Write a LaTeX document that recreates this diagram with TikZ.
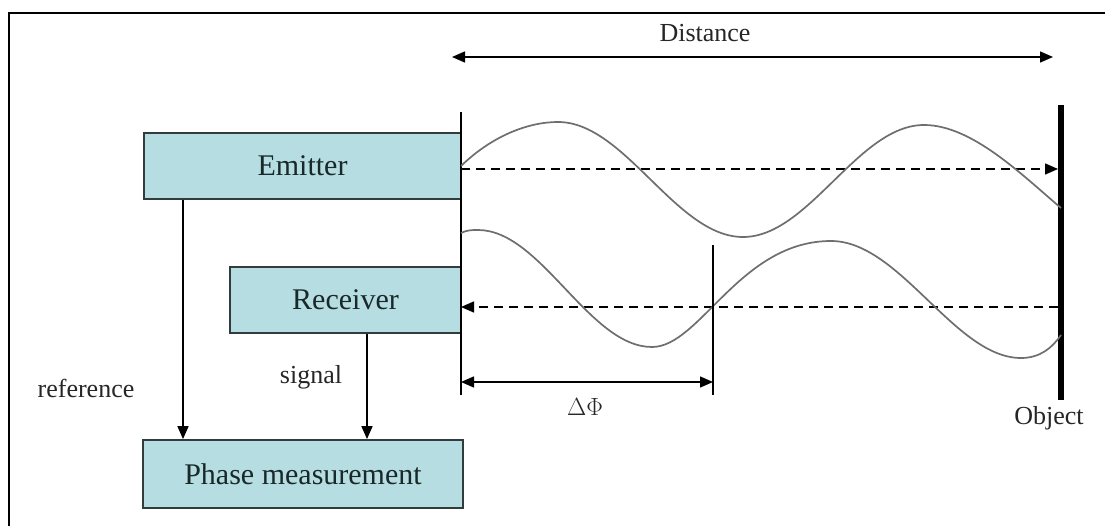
\documentclass[tikz,border=0pt]{standalone}
\usepackage{fontspec}
\setmainfont{Liberation Serif}
\usetikzlibrary{arrows.meta}
\definecolor{boxfill}{RGB}{182,221,226}
\definecolor{boxline}{RGB}{50,60,60}
\definecolor{boxtext}{RGB}{25,40,40}
\definecolor{wave}{RGB}{110,110,110}
\tikzset{
  tip/.tip={Triangle[length=13pt,width=11pt]},
  blockbox/.style={draw=boxline, line width=1.8pt, fill=boxfill, inner sep=0pt,
    text=boxtext, font=\fontsize{30}{32}\selectfont},
  lbl/.style={font=\fontsize{26}{28}\selectfont, text=black!85, inner sep=0pt},
  arr/.style={line width=1.5pt, -tip},
  dblarr/.style={line width=1.5pt, tip-tip},
  dasharr/.style={line width=1.5pt, dash pattern=on 9pt off 6pt, -tip},
  wavecurve/.style={draw=wave, line width=1.7pt},
  tick/.style={line width=1.5pt},
}
\begin{document}
\begin{tikzpicture}[x=1pt,y=-1pt]
  \useasboundingbox (0,0) rectangle (1105,526);
  % frame
  \draw[line width=2.5pt] (9,526) -- (9,13) -- (1105,13);

  % blocks
  \node[blockbox, minimum width=317pt, minimum height=66pt] (emit) at (302.5,166) {Emitter};
  \node[blockbox, minimum width=231pt, minimum height=66pt] (recv) at (345.5,300) {Receiver};
  \node[blockbox, minimum width=320pt, minimum height=68pt] (phase) at (303,474) {Phase measurement};

  % reference and signal paths
  \coordinate (refx) at (183,0);
  \coordinate (sigx) at (367,0);
  \draw[arr] (emit.south -| refx) -- (phase.north -| refx);
  \draw[arr] (recv.south -| sigx) -- (phase.north -| sigx);
  \node[lbl] (reflbl) at (86,388) {reference};
  \node[lbl] (siglbl) at (311,377) {signal};

  % emitter / receiver plane and the object
  \coordinate (vtop) at (461,112);
  \coordinate (vbot) at (461,395);
  \draw[tick] (vtop) -- (vbot);
  \coordinate (objtop) at (1061,105);
  \coordinate (objbot) at (1061,400);
  \draw[line width=6pt] (objtop) -- (objbot);
  \node[lbl] (objlbl) at (1049,418) {Object};

  % distance
  \coordinate (dl) at (452,57);
  \coordinate (dr) at (1053,57);
  \draw[dblarr] (dl) -- (dr);
  \node[lbl] (distlbl) at (705,33) {Distance};

  % outgoing and returning beams
  \coordinate (outs) at (461,169);
  \coordinate (oute) at (1058,169);
  \coordinate (rets) at (1058,307);
  \coordinate (rete) at (461,307);
  \draw[dasharr] (outs) -- (oute);
  \draw[dasharr] (rets) -- (rete);

  % emitted wave
  \draw[wavecurve] (461,166)
    .. controls (492,136) and (528,122) .. (558,122)
    .. controls (625,122) and (676,237) .. (743,237)
    .. controls (809,237) and (858,125) .. (924,125)
    .. controls (972,125) and (1022,175) .. (1061,208);
  % received wave
  \draw[wavecurve] (461,233)
    .. controls (467,230) and (472,230) .. (478,230)
    .. controls (541,230) and (589,347) .. (652,347)
    .. controls (700,347) and (740,241) .. (831,241)
    .. controls (900,241) and (955,358) .. (1021,358)
    .. controls (1040,358) and (1052,348) .. (1061,335);

  % phase shift
  \coordinate (ptop) at (713,245);
  \coordinate (pbot) at (713,395);
  \draw[tick] (ptop) -- (pbot);
  \coordinate (pl) at (461,382);
  \coordinate (pr) at (713,382);
  \draw[dblarr] (pl) -- (pr);
  \node[lbl] (philbl) at (585,407) {$\Delta\Phi$};
\end{tikzpicture}
\end{document}
